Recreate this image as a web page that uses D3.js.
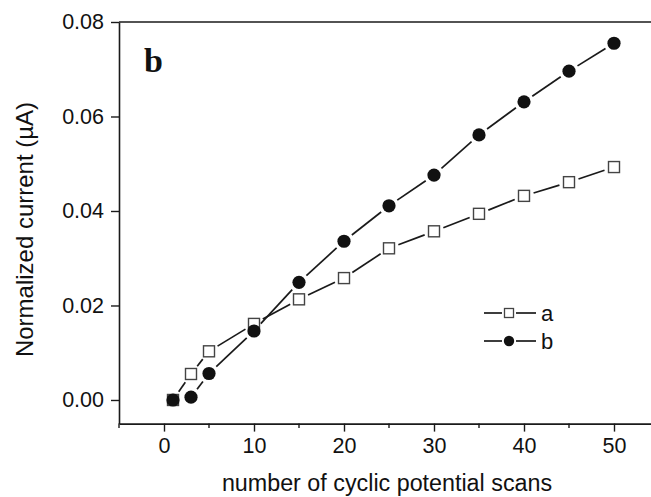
<!DOCTYPE html>
<html>
<head>
<meta charset="utf-8">
<script src="https://cdn.jsdelivr.net/npm/d3@7"></script>
<style>
  html, body { margin: 0; padding: 0; background: #fff; overflow: hidden; }
  svg { display: block; }
</style>
</head>
<body>
<div id="chart"></div>
<script>
// Scan counts and normalized currents for the two electrodes
const scans = [1, 3, 5, 10, 15, 20, 25, 30, 35, 40, 45, 50];
const seriesA = [0, 0.0055, 0.0103, 0.0161, 0.0213, 0.0258, 0.0321, 0.0357, 0.0394, 0.0432, 0.0461, 0.0493];
const seriesB = [0, 0.0006, 0.0056, 0.0146, 0.0249, 0.0336, 0.0411, 0.0476, 0.0561, 0.0631, 0.0696, 0.0755];
const xTicks = [0, 10, 20, 30, 40, 50];
const xMinorTicks = [-5, 5, 15, 25, 35, 45];
const yTicks = [0, 0.02, 0.04, 0.06, 0.08];
const seriesNames = ["a", "b"];

const W = 651, H = 497;
const sans = '"Liberation Sans", Arial, Helvetica, sans-serif';
const serif = '"Liberation Serif", "Times New Roman", serif';
const svg = d3.select("#chart").append("svg").attr("width", W).attr("height", H);

// The frame runs slightly past the right edge of the page
const x = d3.scaleLinear().domain([-5, 55]).range([119, 659]);
const y = d3.scaleLinear().domain([-0.005, 0.08]).range([423.6, 22]);

const ink = "#1a1a1a";

// Top frame line
svg.append("line")
  .attr("x1", x(-5)).attr("x2", x(55))
  .attr("y1", y(0.08)).attr("y2", y(0.08))
  .attr("stroke", ink).attr("stroke-width", 1.6);

// Bottom axis with major ticks
const xAxis = svg.append("g").attr("transform", `translate(0,${y(-0.005)})`)
  .call(d3.axisBottom(x).tickValues(xTicks).tickFormat(d3.format("d")).tickSize(8).tickPadding(6).tickSizeOuter(0));
xAxis.select(".domain").attr("stroke", ink).attr("stroke-width", 1.6);
xAxis.selectAll(".tick line").attr("stroke", ink).attr("stroke-width", 1.4);
xAxis.selectAll(".tick text").style("font-size", "21.5px").style("font-family", sans).attr("fill", "#111");

// Minor ticks on the bottom axis
svg.append("g").selectAll("line").data(xMinorTicks).join("line")
  .attr("x1", d => x(d)).attr("x2", d => x(d))
  .attr("y1", y(-0.005)).attr("y2", y(-0.005) + 4.5)
  .attr("stroke", ink).attr("stroke-width", 1.4);

// Left axis
const yAxis = svg.append("g").attr("transform", `translate(${x(-5)},0)`)
  .call(d3.axisLeft(y).tickValues(yTicks).tickFormat(d3.format(".2f")).tickSize(8).tickPadding(7).tickSizeOuter(0));
yAxis.select(".domain").attr("stroke", ink).attr("stroke-width", 1.6);
yAxis.selectAll(".tick line").attr("stroke", ink).attr("stroke-width", 1.4);
yAxis.selectAll(".tick text").style("font-size", "21.5px").style("font-family", sans).attr("fill", "#111");

// Axis titles
svg.append("text")
  .attr("x", 387).attr("y", 491)
  .attr("text-anchor", "middle")
  .style("font-family", sans).style("font-size", "23.3px").attr("fill", "#111")
  .text("number of cyclic potential scans");
svg.append("text")
  .attr("transform", "translate(33,229.5) rotate(-90)")
  .attr("text-anchor", "middle")
  .style("font-family", sans).style("font-size", "24px").attr("fill", "#111")
  .text("Normalized current (µA)");

// Panel letter
svg.append("text")
  .attr("x", 144).attr("y", 72)
  .style("font-family", serif).style("font-weight", "bold").style("font-size", "34px")
  .attr("fill", "#111")
  .text("b");

// Connecting segments that stop short of each marker
function gappedSegments(g, xs, ys, gap) {
  for (let i = 0; i < xs.length - 1; i++) {
    const x0 = x(xs[i]), y0 = y(ys[i]), x1 = x(xs[i + 1]), y1 = y(ys[i + 1]);
    const dx = x1 - x0, dy = y1 - y0, len = Math.hypot(dx, dy);
    if (len <= 2 * gap) continue;
    const ux = dx / len, uy = dy / len;
    g.append("line")
      .attr("x1", x0 + ux * gap).attr("y1", y0 + uy * gap)
      .attr("x2", x1 - ux * gap).attr("y2", y1 - uy * gap)
      .attr("stroke", ink).attr("stroke-width", 1.7);
  }
}

const gA = svg.append("g");
gappedSegments(gA, scans, seriesA, 10);
const sq = 11;
gA.selectAll("rect").data(scans).join("rect")
  .attr("x", d => x(d) - sq / 2).attr("y", (d, i) => y(seriesA[i]) - sq / 2)
  .attr("width", sq).attr("height", sq)
  .attr("fill", "#fff").attr("stroke", "#444").attr("stroke-width", 1.4);

const gB = svg.append("g");
gappedSegments(gB, scans, seriesB, 10);
gB.selectAll("circle").data(scans).join("circle")
  .attr("cx", d => x(d)).attr("cy", (d, i) => y(seriesB[i]))
  .attr("r", 6.6).attr("fill", "#111");

// Legend
const legend = svg.append("g");
const legRows = [{ name: seriesNames[0], y: 313 }, { name: seriesNames[1], y: 341 }];
legRows.forEach((r, i) => {
  legend.append("line").attr("x1", 484).attr("x2", 502).attr("y1", r.y).attr("y2", r.y)
    .attr("stroke", ink).attr("stroke-width", 1.7);
  legend.append("line").attr("x1", 516).attr("x2", 536).attr("y1", r.y).attr("y2", r.y)
    .attr("stroke", ink).attr("stroke-width", 1.7);
  if (i === 0) {
    legend.append("rect").attr("x", 509 - 4.5).attr("y", r.y - 4.5).attr("width", 9).attr("height", 9)
      .attr("fill", "#fff").attr("stroke", "#444").attr("stroke-width", 1.3);
  } else {
    legend.append("circle").attr("cx", 509).attr("cy", r.y).attr("r", 5.2).attr("fill", "#111");
  }
  legend.append("text").attr("x", 541).attr("y", r.y + 8)
    .style("font-family", sans).style("font-size", "22px").attr("fill", "#111")
    .text(r.name);
});
</script>
</body>
</html>
